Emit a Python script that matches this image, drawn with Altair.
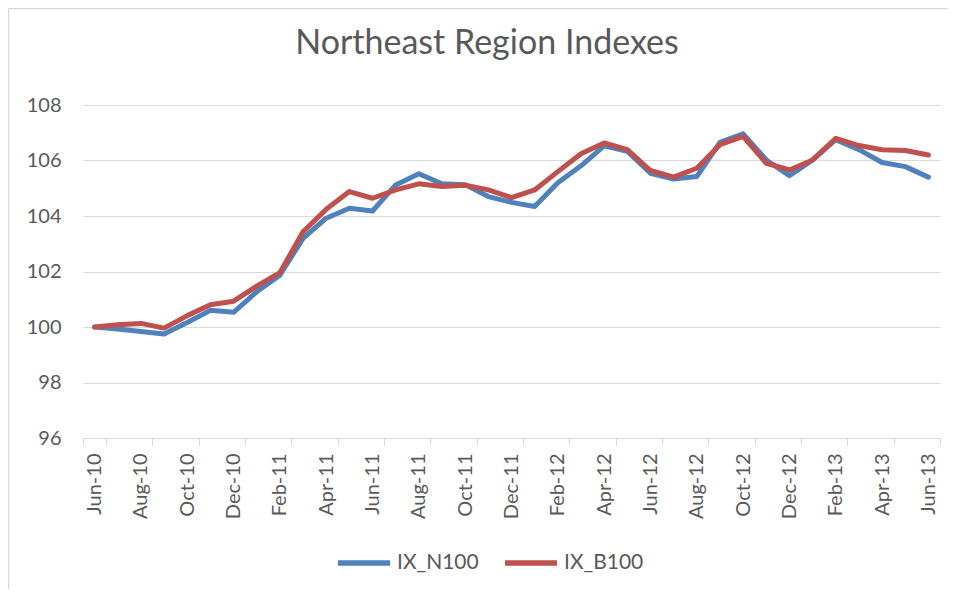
import altair as alt
import pandas as pd

months = ["Jun-10", "Jul-10", "Aug-10", "Sep-10", "Oct-10", "Nov-10", "Dec-10",
          "Jan-11", "Feb-11", "Mar-11", "Apr-11", "May-11", "Jun-11", "Jul-11",
          "Aug-11", "Sep-11", "Oct-11", "Nov-11", "Dec-11", "Jan-12", "Feb-12",
          "Mar-12", "Apr-12", "May-12", "Jun-12", "Jul-12", "Aug-12", "Sep-12",
          "Oct-12", "Nov-12", "Dec-12", "Jan-13", "Feb-13", "Mar-13", "Apr-13",
          "May-13", "Jun-13"]

ix_n100 = [100.00, 99.93, 99.84, 99.75, 100.16, 100.60, 100.53, 101.27, 101.87,
           103.19, 103.92, 104.28, 104.18, 105.12, 105.52, 105.16, 105.13, 104.70,
           104.49, 104.34, 105.20, 105.81, 106.53, 106.33, 105.54, 105.33, 105.42,
           106.65, 106.96, 106.02, 105.45, 106.02, 106.75, 106.39, 105.93, 105.78,
           105.40]

ix_b100 = [100.00, 100.08, 100.13, 99.96, 100.41, 100.80, 100.93, 101.47, 101.96,
           103.43, 104.24, 104.88, 104.64, 104.94, 105.16, 105.06, 105.11, 104.94,
           104.66, 104.94, 105.60, 106.24, 106.63, 106.39, 105.64, 105.40, 105.72,
           106.57, 106.87, 105.90, 105.66, 106.02, 106.80, 106.54, 106.39, 106.36,
           106.20]

series_names = ["IX_N100", "IX_B100"]
series_colors = ["#4F81BD", "#C0504D"]
y_ticks = [96, 98, 100, 102, 104, 106, 108]
x_label_months = months[::2]
chart_title = "Northeast Region Indexes"

rows = []
for name, vals in zip(series_names, [ix_n100, ix_b100]):
    for m, v in zip(months, vals):
        rows.append({"month": m, "value": v, "series": name})
df = pd.DataFrame(rows)

FONT = "Lato"
GREY = "#595959"
GRID = "#D9D9D9"

lines = alt.Chart(df).mark_line(strokeWidth=5, strokeCap="round", strokeJoin="round").encode(
    x=alt.X("month:N", sort=months,
            scale=alt.Scale(type="band", paddingInner=0, paddingOuter=0),
            axis=alt.Axis(title=None, values=x_label_months, tickBand="extent",
                          labelAngle=-90, labelAlign="right", labelBaseline="middle",
                          labelPadding=8, tickSize=7, tickColor=GRID, domainColor=GRID,
                          grid=False, labelFontSize=20, labelColor=GREY, labelFont=FONT)),
    y=alt.Y("value:Q",
            scale=alt.Scale(domain=[96, 108], nice=False, zero=False),
            axis=alt.Axis(title=None, values=y_ticks, grid=True, gridColor=GRID,
                          domain=False, ticks=False, labelPadding=22,
                          labelFontSize=20, labelColor=GREY, labelFont=FONT)),
    color=alt.Color("series:N", sort=series_names,
                    scale=alt.Scale(domain=series_names, range=series_colors),
                    legend=alt.Legend(title=None, orient="none", direction="horizontal",
                                      legendX=252, legendY=429,
                                      symbolType="stroke", symbolSize=2704,
                                      symbolStrokeWidth=5.5, labelFontSize=21,
                                      labelColor=GREY, labelFont=FONT, labelOffset=4,
                                      columnPadding=15)),
    detail="series:N",
)

title_df = pd.DataFrame({"t": [chart_title]})
title = alt.Chart(title_df).mark_text(font=FONT, fontSize=34, color=GREY,
                                      align="center", baseline="alphabetic").encode(
    text="t:N", x=alt.value(404), y=alt.value(-51))

frame_df = pd.DataFrame({"a": [0]})
frame_top = alt.Chart(frame_df).mark_rule(color=GRID, strokeWidth=1.5).encode(
    x=alt.value(-74.5), x2=alt.value(940), y=alt.value(-96.5))
frame_left = alt.Chart(frame_df).mark_rule(color=GRID, strokeWidth=1.5).encode(
    x=alt.value(-74.5), y=alt.value(-96.5), y2=alt.value(490))

chart = alt.layer(frame_top, frame_left, title, lines).properties(
    width=857, height=333,
    autosize=alt.AutoSizeParams(type="none"),
    padding={"left": 75, "top": 97, "right": 8, "bottom": 151},
).configure_view(stroke=None)

chart.save("out.html", embed_options={"renderer": "svg", "actions": False})
